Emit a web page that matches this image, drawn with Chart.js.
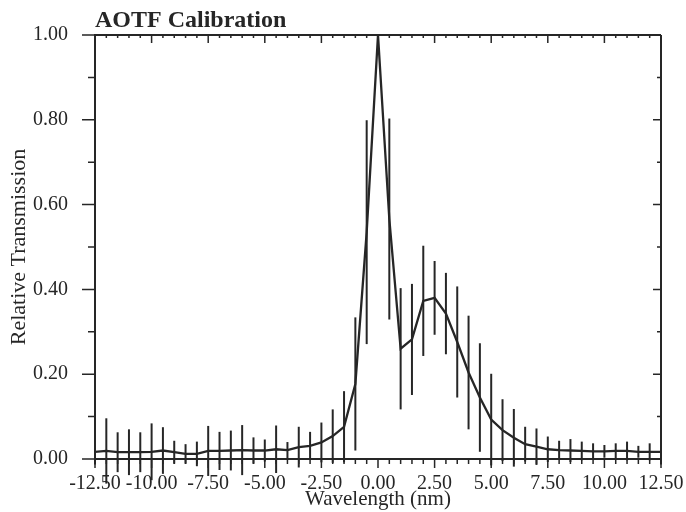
<!DOCTYPE html>
<html lang="en">
<head>
    <meta charset="UTF-8">
    <title>AOTF Calibration</title>
    <style>
        body { margin: 0; background: #fff; }
        .plot { width: 686px; height: 512px; }
    </style>
</head>
<body>
    <div class="plot">
        <canvas id="chart1"></canvas>
    </div>
    <script src="https://cdn.jsdelivr.net/npm/chart.js@4.4.0/dist/chart.umd.min.js"></script>
    <script>
        // wavelength offset (nm), one point every 0.5 nm
        const wavelength = [-12.5, -12.0, -11.5, -11.0, -10.5, -10.0, -9.5, -9.0, -8.5, -8.0,
            -7.5, -7.0, -6.5, -6.0, -5.5, -5.0, -4.5, -4.0, -3.5, -3.0,
            -2.5, -2.0, -1.5, -1.0, -0.5, 0.0, 0.5, 1.0, 1.5, 2.0,
            2.5, 3.0, 3.5, 4.0, 4.5, 5.0, 5.5, 6.0, 6.5, 7.0,
            7.5, 8.0, 8.5, 9.0, 9.5, 10.0, 10.5, 11.0, 11.5, 12.0, 12.5];
        // relative transmission
        const transmission = [0.017, 0.019, 0.016, 0.016, 0.016, 0.017, 0.020, 0.016, 0.012, 0.012,
            0.019, 0.019, 0.020, 0.021, 0.020, 0.020, 0.023, 0.021, 0.028, 0.031,
            0.039, 0.054, 0.076, 0.177, 0.535, 1.000, 0.566, 0.260, 0.282, 0.373,
            0.380, 0.343, 0.276, 0.204, 0.145, 0.093, 0.068, 0.050, 0.035, 0.029,
            0.023, 0.021, 0.020, 0.019, 0.018, 0.018, 0.019, 0.019, 0.017, 0.017, 0.017];
        // half length of each error bar
        const errorBars = [0.030, 0.077, 0.047, 0.054, 0.047, 0.067, 0.055, 0.027, 0.023, 0.029,
            0.059, 0.045, 0.047, 0.059, 0.031, 0.026, 0.056, 0.019, 0.048, 0.033,
            0.047, 0.063, 0.084, 0.157, 0.264, 0.000, 0.237, 0.143, 0.131, 0.130,
            0.087, 0.096, 0.131, 0.134, 0.128, 0.108, 0.073, 0.068, 0.041, 0.043,
            0.030, 0.022, 0.027, 0.022, 0.019, 0.015, 0.018, 0.022, 0.014, 0.020, 0.030];

        const ink = '#262626';
        const serif = '"Liberation Serif", "DejaVu Serif", serif';

        // vertical error bars, drawn through the scales
        const errorBarPlugin = {
            id: 'errorBars',
            afterDatasetsDraw(chart) {
                const ctx = chart.ctx;
                const xs = chart.scales.x;
                const ys = chart.scales.y;
                ctx.save();
                ctx.strokeStyle = ink;
                ctx.lineWidth = 2;
                wavelength.forEach((w, i) => {
                    if (errorBars[i] === 0) return;
                    const px = xs.getPixelForValue(w);
                    ctx.beginPath();
                    ctx.moveTo(px, ys.getPixelForValue(transmission[i] + errorBars[i]));
                    ctx.lineTo(px, ys.getPixelForValue(transmission[i] - errorBars[i]));
                    ctx.stroke();
                });
                ctx.restore();
            }
        };

        // box frame with major/minor ticks on all four sides
        const framePlugin = {
            id: 'frame',
            afterDraw(chart) {
                const ctx = chart.ctx;
                const xs = chart.scales.x;
                const ys = chart.scales.y;
                const { left, right, top, bottom } = chart.chartArea;
                ctx.save();
                ctx.strokeStyle = ink;
                ctx.lineWidth = 2;
                ctx.beginPath();
                ctx.moveTo(left, top);
                ctx.lineTo(right, top);
                ctx.moveTo(right, top);
                ctx.lineTo(right, bottom);
                ctx.stroke();

                ctx.lineWidth = 1.5;
                ctx.beginPath();
                wavelength.forEach((w) => {
                    const px = xs.getPixelForValue(w);
                    const major = Math.abs(w / 2.5 - Math.round(w / 2.5)) < 1e-6;
                    // bottom: outward
                    ctx.moveTo(px, bottom);
                    ctx.lineTo(px, bottom + (major ? 9 : 5));
                    // top: inward
                    ctx.moveTo(px, top);
                    ctx.lineTo(px, top + (major ? 8 : 3));
                });
                for (let i = 0; i <= 10; i++) {
                    const py = ys.getPixelForValue(i / 10);
                    const major = i % 2 === 0;
                    ctx.moveTo(left, py);
                    ctx.lineTo(left - (major ? 13 : 7), py);
                    ctx.moveTo(right, py);
                    ctx.lineTo(right - (major ? 8 : 4), py);
                }
                ctx.stroke();
                ctx.restore();
            }
        };

        new Chart(chart1, {
            type: 'line',
            data: {
                datasets: [
                    {
                        label: 'Relative Transmission',
                        data: wavelength.map((w, i) => ({ x: w, y: transmission[i] })),
                        borderColor: ink,
                        borderWidth: 2.3,
                        pointRadius: 0,
                        tension: 0,
                        fill: false
                    }
                ]
            },
            options: {
                responsive: true,
                maintainAspectRatio: false,
                animation: false,
                layout: {
                    padding: { left: 0, right: 25, top: 0, bottom: 0 }
                },
                plugins: {
                    legend: { display: false },
                    tooltip: { enabled: false },
                    title: {
                        display: true,
                        text: 'AOTF Calibration',
                        align: 'start',
                        fullSize: false,
                        color: ink,
                        font: { family: serif, size: 24, weight: 'bold', lineHeight: 1.15 },
                        padding: { top: 7, bottom: 0.4 }
                    }
                },
                scales: {
                    x: {
                        type: 'linear',
                        min: -12.5,
                        max: 12.5,
                        grid: { display: false, drawTicks: false },
                        border: { display: true, color: ink, width: 2 },
                        ticks: {
                            stepSize: 2.5,
                            padding: 13,
                            maxRotation: 0,
                            autoSkip: false,
                            color: ink,
                            font: { family: serif, size: 20 },
                            callback: (v) => Number(v).toFixed(2)
                        },
                        title: {
                            display: true,
                            text: 'Wavelength (nm)',
                            color: ink,
                            font: { family: serif, size: 21 },
                            padding: { top: 0, bottom: 0 }
                        },
                        afterFit: (s) => {
                            s.height = 53;
                            s.paddingLeft = 0;
                            s.paddingRight = 0;
                        }
                    },
                    y: {
                        min: 0,
                        max: 1,
                        grid: { display: false, drawTicks: false },
                        border: { display: true, color: ink, width: 2 },
                        ticks: {
                            stepSize: 0.2,
                            padding: 27,
                            color: ink,
                            font: { family: serif, size: 20 },
                            callback: (v) => Number(v).toFixed(2)
                        },
                        title: {
                            display: true,
                            text: 'Relative Transmission',
                            color: ink,
                            font: { family: serif, size: 22 },
                            padding: { top: 6, bottom: 0 }
                        },
                        afterFit: (s) => {
                            s.width = 95;
                            s.paddingTop = 0;
                            s.paddingBottom = 0;
                        }
                    }
                }
            },
            plugins: [errorBarPlugin, framePlugin]
        });
    </script>
</body>
</html>
